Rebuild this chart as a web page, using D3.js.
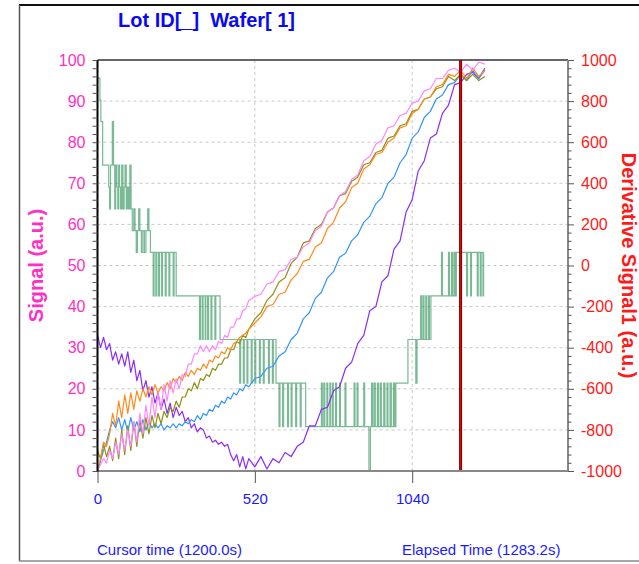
<!DOCTYPE html>
<html>
<head>
<meta charset="utf-8">
<script src="https://cdnjs.cloudflare.com/ajax/libs/d3/7.8.5/d3.min.js"></script>
<style>
body { margin: 0; background: #fff; }
text { font-family: Arial, "Liberation Sans", sans-serif; }
</style>
</head>
<body>
<div id="chart"></div>
<script>

// sample clock (s) for the signal traces
var timeSec = [0,10,20,30,40,50,60,70,80,90,100,110,120,130,140,150,160,170,180,190,200,
    210,220,230,240,250,260,270,280,290,300,310,320,330,340,350,360,370,380,390,400,
    410,420,430,440,450,460,470,480,490,500,
    520,540,560,580,600,620,640,660,680,700,720,740,760,780,800,820,840,860,880,900,
    920,940,960,980,1000,1020,1040,1060,1080,1100,1120,1140,1160,1180,1200,1220,1240,1260,1280];

// signal traces, left axis (a.u.)
var purpleSig = [33,30,32.5,29.5,31,27,29,26,28.5,25.5,29,24,27,22,24.5,19.5,22,18,20.5,16.5,19,
    15,17.5,14,16.5,13,15.5,13.5,14.5,12,13,10.5,11.5,9.5,10.5,10,8,8.5,7,7.5,6.5,
    7,6,6.5,4,2.5,4,1,3.5,0.5,3,
    1,3.5,0.5,3,2,4.5,3.5,6,7,11,11,15,15.5,19.5,20.5,25,26.5,31,33,39,
    40,46,47.5,54,56,63,66,73,75.5,81,82,87,89,94,94.5,96.5,97,95.5,98];

var orangeSig = [0,3,7,6,9,14,11,17,13,18.5,14,19,15,19.5,17,20,18,20.5,18.5,21,19,
    20.5,19.5,21.5,20,22.5,21.5,23,22,24,23,24.5,23.5,25,24.5,26,25,27,26.5,28,27.5,
    29,28.5,30,29.5,31,31.5,32.5,33,33.5,34.5,
    36,37.5,40,40.5,43,43.5,46.5,48,51,51.5,54.5,55.5,59,60.5,64,65.5,69,70,73.5,74.5,
    77,77.5,80,81,83.5,84,87,88,90.5,91,93.5,94,96.5,96,97.5,95.5,98,96,97.5];

var oliveSig = [5,3,6.5,3.5,6,2.5,8,3,10,4,11,5,12,6,12.5,8,13,9,13.5,10.5,14,
    11.5,14.5,13,15.5,14.5,17,15.5,18,18,20,19.5,21.5,20,22.5,22,23.5,23,25,24.5,26,
    26,27.5,27.5,29.5,29.5,31.5,31,33,32.5,34.5,
    37,38.5,41.5,43,46,47,50.5,52,55.5,56,59,60,63,64,67,67.5,70.5,71.5,74.5,75,
    77.5,78,81,81.5,84,84.5,87.5,88,90.5,91,93,93.5,96,95,96.5,95,96.5,95,96];

var blueSig = [0,2.5,5,7,10,12,10.5,13,10,12.5,9.5,13,10,12,9.5,12.5,10,12,10.5,11.5,10.5,
    11.5,10,11,10.5,11.5,10.5,11.5,11,12,11.5,12.5,12,13.5,12.5,14,13.5,15,14.5,16,15.5,
    17,16.5,18,17.5,19,18.5,20,19.5,21,20.5,
    22.5,23,25,25.5,28,29,32,33.5,37,38.5,42,43.5,47,48.5,52,53,56,57.5,60.5,62,
    65,66.5,70,71.5,75,77,81,82.5,86,87.5,90.5,91.5,94,94.5,96.5,95,97.5,95.5,97.5];

var pinkSig = [0,1.5,3,2,5,3,7,4,9,5,10,6,12,7,14,9,16,11,18,13,19,
    15,21,17,22,19,22.5,20,23.5,23,26,26,28.5,28.5,30.5,29,30.5,29,30.5,29.5,31.5,
    31,33,32.5,35,35,37,37,39,39.5,41.5,
    42.5,43,45.5,46,48.5,49,51.5,52,54.5,55.5,58.5,59.5,63,64,67,68,71,72,75.5,76.5,
    79.5,80.5,83.5,84,86.5,87,89.5,90,92.5,93,95.5,95.5,97.5,98,97,99,97.5,99.5,99];

// derivative (right axis): [time s, level] step changes
var derivSteps = [[0,912],[8,806],[11,700],[17,488],[37,382],[40,276],[43,488],[49,700],[53,488],
    [57,276],[60,488],[64,382],[67,276],[70,488],[73,382],[76,276],[80,488],[84,276],[88,382],
    [91,488],[95,276],[99,382],[103,276],[107,488],[111,276],[115,170],[120,276],[124,170],
    [128,64],[132,170],[136,276],[140,170],[145,64],[150,170],[155,64],[160,170],[166,276],
    [170,170],[175,64],[184,-148],[187,64],[193,-148],[196,64],[202,-148],[205,64],[212,-148],
    [215,64],[224,-148],[227,64],[236,-148],[239,64],[250,-148],[253,64],[260,-148],
    [337,-360],[340,-148],[346,-360],[349,-148],[356,-360],[358,-148],[364,-360],[367,-148],
    [375,-360],[378,-148],[388,-360],[391,-148],[405,-360],
    [470,-572],[473,-360],[482,-572],[485,-360],[494,-572],[497,-360],[508,-572],[511,-360],
    [520,-572],[523,-360],[535,-572],[538,-360],[548,-572],[551,-360],[565,-572],[568,-360],
    [578,-572],[581,-360],[590,-572],[600,-784],[603,-572],[612,-784],[615,-572],[628,-784],
    [631,-572],[640,-784],[643,-572],[655,-784],[658,-572],[670,-784],[673,-572],[688,-784],
    [740,-572],[743,-784],[748,-572],[751,-784],[758,-572],[761,-784],[768,-572],[770,-784],
    [776,-572],[779,-784],[787,-572],[790,-784],[800,-572],[803,-784],[818,-572],[821,-784],
    [848,-572],[851,-784],[858,-572],[861,-784],[880,-572],[883,-784],[897,-996],[902,-784],
    [906,-572],[910,-784],[915,-572],[918,-784],[925,-572],[929,-784],[935,-572],[938,-784],
    [946,-572],[950,-784],[957,-572],[960,-784],[967,-572],[971,-784],[978,-572],[982,-784],
    [986,-572],[1026,-360],[1052,-572],[1056,-360],[1068,-148],[1071,-360],[1076,-148],
    [1079,-360],[1085,-148],[1088,-360],[1094,-148],[1097,-360],[1102,-148],[1137,64],
    [1140,-148],[1160,64],[1163,-148],[1170,64],[1173,-148],[1178,64],[1182,-148],[1186,64],
    [1220,-148],[1223,64],[1233,-148],[1236,64],[1255,-148],[1258,64],[1265,-148],[1268,64],
    [1274,-148],[1276,64]];

// ticks + labels
var leftTicks = [0,10,20,30,40,50,60,70,80,90,100];
var leftMinor = [2,4,6,8,12,14,16,18,22,24,26,28,32,34,36,38,42,44,46,48,52,54,56,58,
    62,64,66,68,72,74,76,78,82,84,86,88,92,94,96,98];
var rightTicks = [-1000,-800,-600,-400,-200,0,200,400,600,800,1000];
var rightMinor = [-960,-920,-880,-840,-760,-720,-680,-640,-560,-520,-480,-440,-360,-320,-280,-240,
    -160,-120,-80,-40,40,80,120,160,240,280,320,360,440,480,520,560,640,680,720,760,840,880,920,960];
var timeTicks = [0,520,1040];
var cursorTime = 1200;
var titleText = 'Lot ID[_]  Wafer[ 1]';
var leftTitle = 'Signal (a.u.)';
var rightTitle = 'Derivative Signal1 (a.u.)';
var cursorText = 'Cursor time (1200.0s)';
var elapsedText = 'Elapsed Time (1283.2s)';

var W = 639, H = 564;
var box = {l: 97.5, r: 568, t: 60, b: 471};

var svg = d3.select('#chart').append('svg')
    .attr('width', W)
    .attr('height', H);

var x = d3.scaleLinear().domain([0, 1555]).range([box.l, box.r]);
var yL = d3.scaleLinear().domain([0, 100]).range([box.b, box.t]);
var yR = d3.scaleLinear().domain([-1000, 1000]).range([box.b, box.t]);

//outer frame
svg.append('line').attr('x1', 19).attr('y1', 5).attr('x2', W).attr('y2', 5)
    .attr('stroke', '#111').attr('stroke-width', 2);
svg.append('line').attr('x1', 19.5).attr('y1', 5).attr('x2', 19.5).attr('y2', 561)
    .attr('stroke', '#555').attr('stroke-width', 1.5);
svg.append('line').attr('x1', 19).attr('y1', 561).attr('x2', W).attr('y2', 561)
    .attr('stroke', '#888').attr('stroke-width', 1.5);

//grid
var grid = svg.append('g').attr('class', 'grid');
grid.selectAll('.hg').data(leftTicks.slice(1, -1)).enter().append('line')
    .attr('x1', box.l).attr('x2', box.r)
    .attr('y1', function(d){ return yL(d); }).attr('y2', function(d){ return yL(d); })
    .attr('stroke', '#c8c8c8').attr('stroke-dasharray', '3,3');
grid.selectAll('.vg').data(timeTicks.slice(1)).enter().append('line')
    .attr('y1', box.t).attr('y2', box.b)
    .attr('x1', function(d){ return x(d); }).attr('x2', function(d){ return x(d); })
    .attr('stroke', '#c8c8c8').attr('stroke-dasharray', '3,3');

//traces
var lineL = d3.line()
    .x(function(d){ return x(d[0]); })
    .y(function(d){ return yL(d[1]); });
var lineR = d3.line()
    .x(function(d){ return x(d[0]); })
    .y(function(d){ return yR(d[1]); })
    .curve(d3.curveStepAfter);

svg.append('path').datum(derivSteps)
    .attr('d', lineR).attr('fill', 'none')
    .attr('stroke', '#1f8a4c').attr('stroke-opacity', 0.6).attr('stroke-width', 1.2);

var traces = [
    {vals: purpleSig, col: '#8c2cf5'},
    {vals: blueSig, col: '#2f94ff'},
    {vals: oliveSig, col: '#8f8f12'},
    {vals: orangeSig, col: '#ff8a1c'},
    {vals: pinkSig, col: '#ff86ff'}
];
traces.forEach(function(s){
    var pts = timeSec.map(function(t, i){ return [t, s.vals[i]]; });
    svg.append('path').datum(pts)
        .attr('d', lineL).attr('fill', 'none')
        .attr('stroke', s.col).attr('stroke-width', 1.2)
        .attr('stroke-linejoin', 'round');
});

//cursor
svg.append('line').attr('x1', x(cursorTime)).attr('x2', x(cursorTime))
    .attr('y1', box.t).attr('y2', box.b)
    .attr('stroke', '#6a0000').attr('stroke-width', 3);
svg.append('line').attr('x1', x(cursorTime)).attr('x2', x(cursorTime))
    .attr('y1', box.t).attr('y2', box.b)
    .attr('stroke', '#e80000').attr('stroke-width', 1.4);

//plot borders
svg.append('line').attr('x1', box.l).attr('x2', box.r).attr('y1', box.t).attr('y2', box.t)
    .attr('stroke', '#333').attr('stroke-width', 1.5);
svg.append('line').attr('x1', box.r).attr('x2', box.r).attr('y1', box.t).attr('y2', box.b)
    .attr('stroke', '#888').attr('stroke-width', 2);
svg.append('line').attr('x1', box.l).attr('x2', box.r).attr('y1', box.b).attr('y2', box.b)
    .attr('stroke', '#888').attr('stroke-width', 2);
svg.append('line').attr('x1', box.l).attr('x2', box.l).attr('y1', box.t).attr('y2', box.b + 1)
    .attr('stroke', '#000').attr('stroke-width', 2);

//axes
var plain = function(d){ return String(d); };
function styleAxis(g, col, size){
    g.select('.domain').remove();
    g.selectAll('.tick line').attr('stroke', '#555');
    g.selectAll('.tick text').attr('fill', col).style('font-size', size)
        .style('font-family', 'Arial, "Liberation Sans", sans-serif');
}

svg.append('g').attr('transform', 'translate(' + box.l + ',0)')
    .call(d3.axisLeft(yL).tickValues(leftMinor).tickSize(5).tickFormat(''))
    .call(styleAxis, '#ff2fc6', '16px');
svg.append('g').attr('transform', 'translate(' + box.l + ',0)')
    .call(d3.axisLeft(yL).tickValues(leftTicks).tickSize(5).tickPadding(7).tickFormat(plain))
    .call(styleAxis, '#ff2fc6', '16px');

svg.append('g').attr('transform', 'translate(' + box.r + ',0)')
    .call(d3.axisRight(yR).tickValues(rightMinor).tickSize(3.5).tickFormat(''))
    .call(styleAxis, '#ff1a1a', '16px');
svg.append('g').attr('transform', 'translate(' + box.r + ',0)')
    .call(d3.axisRight(yR).tickValues(rightTicks).tickSize(6).tickPadding(7).tickFormat(plain))
    .call(styleAxis, '#ff1a1a', '16px');

svg.append('g').attr('transform', 'translate(0,' + box.b + ')')
    .call(d3.axisBottom(x).tickValues(timeTicks).tickSize(12).tickPadding(10).tickFormat(plain))
    .call(styleAxis, '#1a1aff', '15px');

//titles
svg.append('text').attr('x', 118).attr('y', 27)
    .style('white-space', 'pre')
    .attr('fill', '#0a0af0').style('font-size', '20px').style('font-weight', 'bold')
    .text(titleText);

svg.append('text')
    .attr('transform', 'translate(43,' + ((box.t + box.b) / 2) + ') rotate(-90)')
    .attr('text-anchor', 'middle')
    .attr('fill', '#ff2fc6').style('font-size', '20px').style('font-weight', 'bold')
    .text(leftTitle);

svg.append('text')
    .attr('transform', 'translate(622,' + ((box.t + box.b) / 2) + ') rotate(90)')
    .attr('text-anchor', 'middle')
    .attr('fill', '#ff1a1a').style('font-size', '20px').style('font-weight', 'bold')
    .text(rightTitle);

svg.append('text').attr('x', 97).attr('y', 555)
    .attr('fill', '#1a1aff').style('font-size', '15px')
    .text(cursorText);
svg.append('text').attr('x', 402).attr('y', 555)
    .attr('fill', '#1a1aff').style('font-size', '15px')
    .text(elapsedText);

</script>
</body>
</html>
